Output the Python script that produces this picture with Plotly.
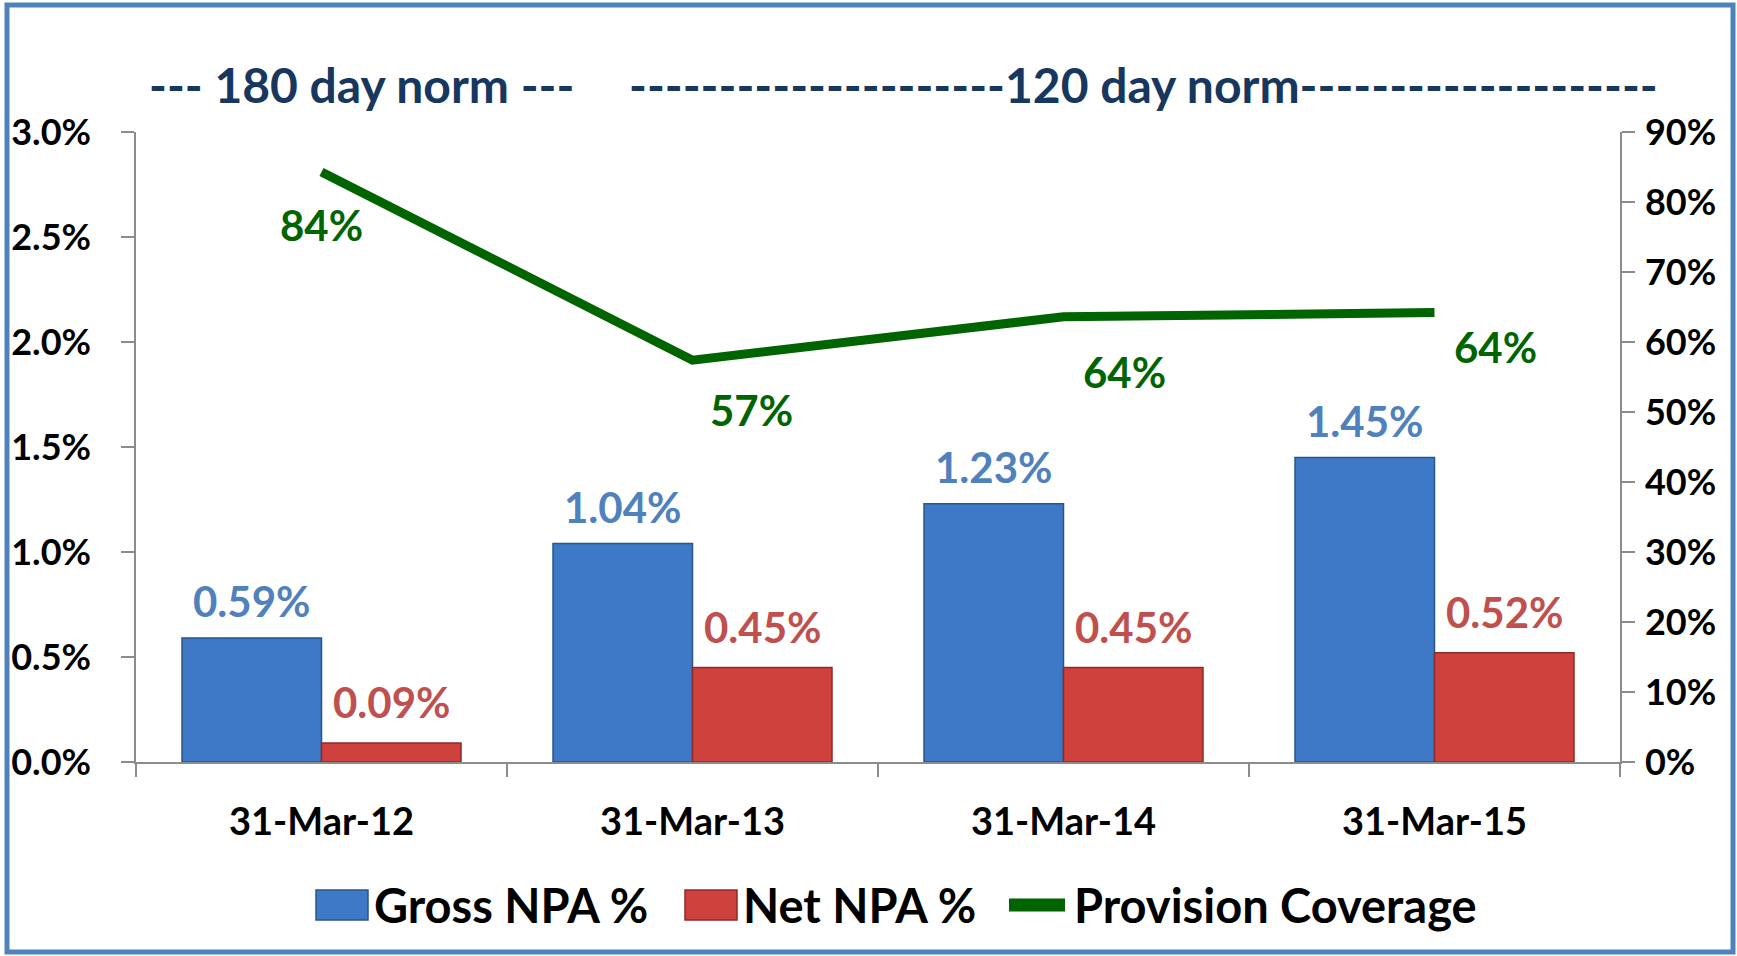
import plotly.graph_objects as go

# Данные графика
dates = ['31-Mar-12', '31-Mar-13', '31-Mar-14', '31-Mar-15']
gross_npa = [0.59, 1.04, 1.23, 1.45]
net_npa = [0.09, 0.45, 0.45, 0.52]
coverage = [84.3, 57.4, 63.6, 64.2]
coverage_labels = ['84%', '57%', '64%', '64%']

# Размеры и поля
W, H = 1737, 956
L, R, T, B = 136, 117, 132, 194
plot_w = W - L - R
plot_h = H - T - B
BARGAP = 0.248

FONT = 'Lato, "Open Sans", sans-serif'
BLUE = '#3D79C6'
RED = '#CF413D'
GREEN = '#006400'
NAVY = '#17375E'
AXIS = '#8C8C8C'


def px(x):
    return (x - L) / plot_w


def py(y):
    return 1 - (y - T) / plot_h


fig = go.Figure()
fig.add_trace(go.Bar(
    x=dates, y=gross_npa, name='Gross NPA %',
    marker=dict(color=BLUE, line=dict(color='#2A5689', width=1.5)),
))
fig.add_trace(go.Bar(
    x=dates, y=net_npa, name='Net NPA %',
    marker=dict(color=RED, line=dict(color='#8E2A28', width=1.5)),
))
fig.add_trace(go.Scatter(
    x=dates, y=coverage, name='Provision Coverage', yaxis='y2',
    mode='lines', line=dict(color=GREEN, width=9),
))

tick_font = dict(family=FONT, size=36, color='black', weight='bold')

fig.update_layout(
    width=W, height=H,
    margin=dict(l=L, r=R, t=T, b=B, pad=0, autoexpand=False),
    paper_bgcolor='white', plot_bgcolor='white',
    showlegend=False,
    barmode='group', bargap=BARGAP, bargroupgap=0,
    font=dict(family=FONT),
    xaxis=dict(
        showline=True, linecolor=AXIS, linewidth=1.5,
        ticks='outside', tickson='boundaries', ticklen=13, tickcolor=AXIS, tickwidth=1.5,
        tickfont=dict(family=FONT, size=38, color='black', weight='bold'),
        ticklabelstandoff=26, showgrid=False,
    ),
    yaxis=dict(
        range=[0, 3], dtick=0.5, tickformat='.1f', ticksuffix='%',
        showline=True, linecolor=AXIS, linewidth=1.5,
        ticks='outside', ticklen=13, tickcolor=AXIS, tickwidth=1.5,
        tickfont=tick_font, ticklabelstandoff=23,
        showgrid=False, zeroline=False,
    ),
    yaxis2=dict(
        overlaying='y', side='right',
        range=[0, 90], dtick=10, ticksuffix='%',
        showline=True, linecolor=AXIS, linewidth=1.5,
        ticks='outside', ticklen=13, tickcolor=AXIS, tickwidth=1.5,
        tickfont=tick_font, ticklabelstandoff=3,
        showgrid=False, zeroline=False,
    ),
)

annotations = []

# Подписи столбцов
bar_off = plot_w / len(dates) * (1 - BARGAP) / 4
for d, v in zip(dates, gross_npa):
    annotations.append(dict(
        x=d, y=v, xref='x', yref='y', text=f'{v:.2f}%', showarrow=False,
        xshift=-bar_off, yanchor='bottom', yshift=10,
        font=dict(family=FONT, size=42, color='#4F81BD', weight='bold'),
    ))
for d, v in zip(dates, net_npa):
    annotations.append(dict(
        x=d, y=v, xref='x', yref='y', text=f'{v:.2f}%', showarrow=False,
        xshift=bar_off, yanchor='bottom', yshift=14,
        font=dict(family=FONT, size=42, color='#C0504D', weight='bold'),
    ))

# Подписи линии
line_anchor = ['center', 'left', 'left', 'left']
line_dx = [0, 15, 17, 17]
line_dy = [-53, -50, -55, -34]
for d, v, t, a, dx, dy in zip(dates, coverage, coverage_labels, line_anchor, line_dx, line_dy):
    annotations.append(dict(
        x=d, y=v, xref='x', yref='y2', text=t, showarrow=False,
        xanchor=a, xshift=dx, yanchor='middle', yshift=dy,
        font=dict(family=FONT, size=42, color=GREEN, weight='bold'),
    ))

# Заголовки сверху
title_font = dict(family=FONT, size=48, color=NAVY, weight='bold')
annotations.append(dict(
    x=px(361), y=py(84), xref='paper', yref='paper', showarrow=False,
    text='--- 180 day norm ---', xanchor='center', yanchor='middle', font=title_font,
))
annotations.append(dict(
    x=px(1143), y=py(84), xref='paper', yref='paper', showarrow=False,
    text='-' * 21 + '120 day norm' + '-' * 20, xanchor='center', yanchor='middle', font=title_font,
))

# Легенда вручную
legend_font = dict(family=FONT, size=47, color='black', weight='bold')
legend_y = 905
for name, tx in [('Gross NPA %', 372), ('Net NPA %', 741), ('Provision Coverage', 1072)]:
    annotations.append(dict(
        x=px(tx), y=py(legend_y), xref='paper', yref='paper', showarrow=False,
        text=name, xanchor='left', yanchor='middle', font=legend_font,
    ))

shapes = [
    dict(type='rect', xref='paper', yref='paper',
         x0=px(316), x1=px(368), y0=py(920), y1=py(890),
         fillcolor=BLUE, line=dict(color='#2A5689', width=1.5)),
    dict(type='rect', xref='paper', yref='paper',
         x0=px(685), x1=px(737), y0=py(920), y1=py(890),
         fillcolor=RED, line=dict(color='#8E2A28', width=1.5)),
    dict(type='line', xref='paper', yref='paper',
         x0=px(1009), x1=px(1065), y0=py(legend_y), y1=py(legend_y),
         line=dict(color=GREEN, width=13)),
    # Рамка вокруг картинки
    dict(type='rect', xref='paper', yref='paper',
         x0=px(7), x1=px(1733), y0=py(952), y1=py(5),
         line=dict(color='#4F81BD', width=5)),
]

fig.update_layout(annotations=annotations, shapes=shapes)

fig.write_html('out.html', config={'displayModeBar': False},
               post_script="document.body.style.margin = '0';")
